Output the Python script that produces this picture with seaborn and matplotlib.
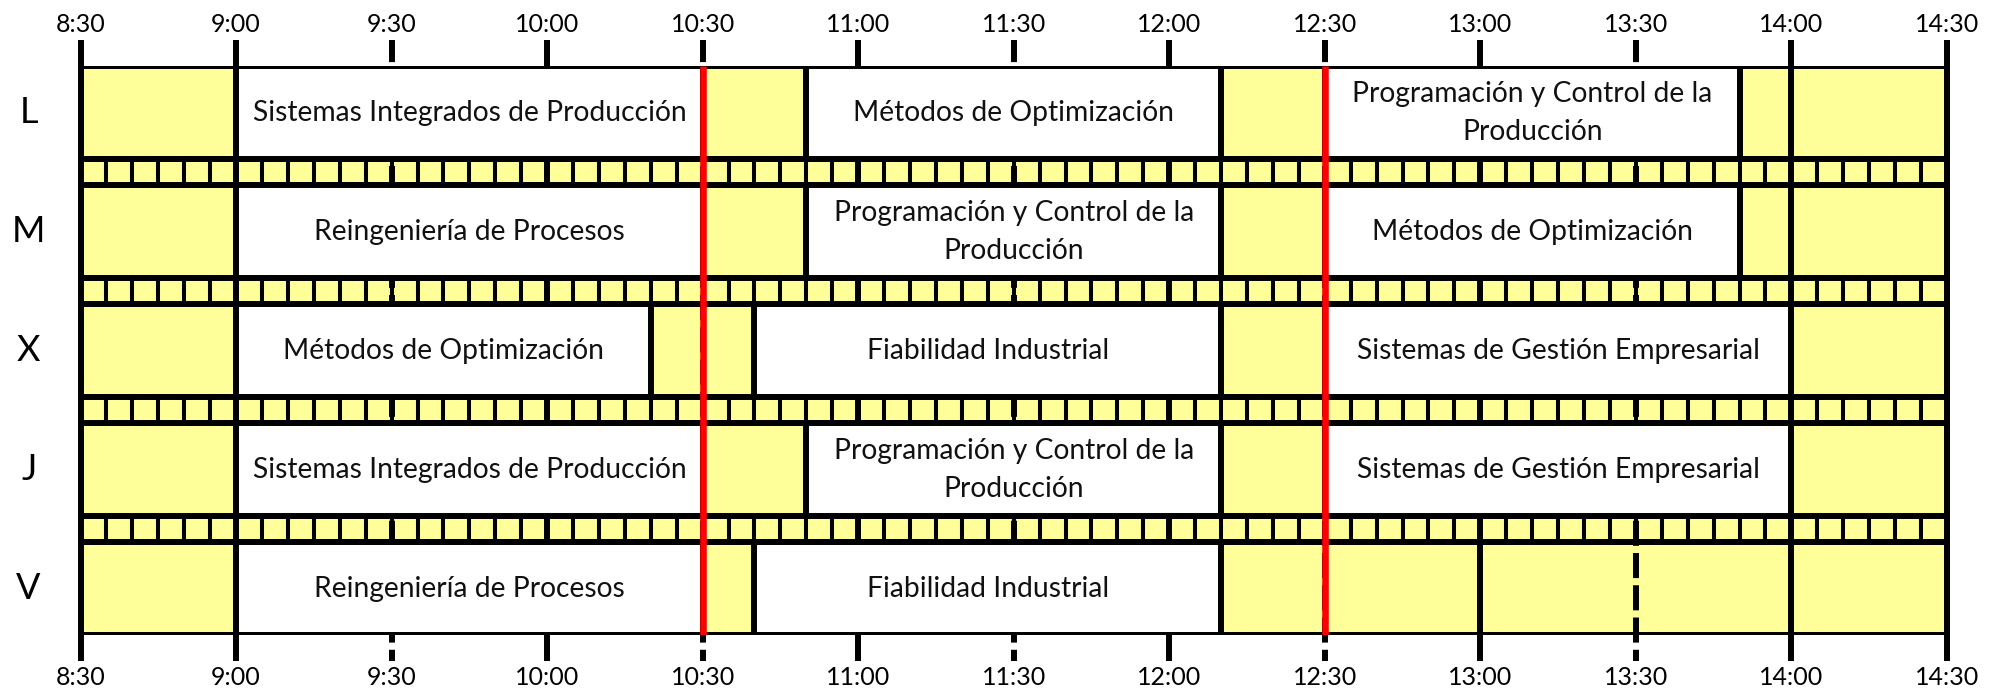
import matplotlib
matplotlib.use("Agg")
import matplotlib.pyplot as plt
import matplotlib.transforms as mtransforms
import numpy as np
import seaborn as sns

# ---------------- data ----------------
days = ["L", "M", "X", "J", "V"]
tick_labels = ["8:30", "9:00", "9:30", "10:00", "10:30", "11:00", "11:30",
               "12:00", "12:30", "13:00", "13:30", "14:00", "14:30"]
class_days = ["L", "L", "L",
              "M", "M", "M",
              "X", "X", "X",
              "J", "J", "J",
              "V", "V"]
class_starts = ["9:00", "10:50", "12:30",
                "9:00", "10:50", "12:30",
                "9:00", "10:40", "12:30",
                "9:00", "10:50", "12:30",
                "9:00", "10:40"]
class_ends = ["10:30", "12:10", "13:50",
              "10:30", "12:10", "13:50",
              "10:20", "12:10", "14:00",
              "10:30", "12:10", "14:00",
              "10:30", "12:10"]
class_names = ["Sistemas Integrados de Producción", "Métodos de Optimización",
               "Programación y Control de la\nProducción",
               "Reingeniería de Procesos", "Programación y Control de la\nProducción",
               "Métodos de Optimización",
               "Métodos de Optimización", "Fiabilidad Industrial",
               "Sistemas de Gestión Empresarial",
               "Sistemas Integrados de Producción", "Programación y Control de la\nProducción",
               "Sistemas de Gestión Empresarial",
               "Reingeniería de Procesos", "Fiabilidad Industrial"]
break_times = ["10:30", "12:30"]
day_start = "8:30"
day_end = "14:30"
slot_minutes = 5


def to_min(s):
    h, m = s.split(":")
    return int(h) * 60 + int(m)


# ---------------- style ----------------
sns.set_theme(style="white")
plt.rcParams["font.family"] = ["Lato", "DejaVu Sans"]

YELLOW = "#ffff99"
LW = 4.3        # thick black lines (pt)
LW_THIN = 2.9   # separators of the 5-min strip
GAP = 0.28      # strip height relative to a day row

fig = plt.figure(figsize=(20.03, 6.96), dpi=100)
ax = fig.add_axes([0.0402, 0.0876, 0.972 - 0.0402, 0.9046 - 0.0876])

x0, x1 = to_min(day_start), to_min(day_end)
row_top = np.arange(len(days)) * (1 + GAP)
row_center = row_top + 0.5
y_total = row_top[-1] + 1

# day rows (yellow background with black border)
ax.barh(row_center, x1 - x0, left=x0, height=1, color=YELLOW,
        edgecolor="black", linewidth=LW, zorder=1)

# 5-minute strips between days
slots = np.arange(x0, x1, slot_minutes)
for j in range(len(days) - 1):
    yc = row_top[j] + 1 + GAP / 2
    ax.barh(np.full(len(slots), yc), slot_minutes, left=slots, height=GAP,
            align="center", color=YELLOW, edgecolor="black",
            linewidth=LW_THIN, zorder=1.2)
    ax.hlines([row_top[j] + 1, row_top[j] + 1 + GAP], x0, x1,
              color="black", linewidth=LW, zorder=1.4)

# half-hour grid lines (also act as ticks, extending outside the frame)
tick_pos = [to_min(t) for t in tick_labels]
ext = 0.28
for t in tick_pos:
    solid = (t % 60 == 0) or t in (x0, x1)
    ax.plot([t, t], [-ext, y_total + ext], color="black", linewidth=LW,
            linestyle="-" if solid else (0.5, (4.2, 1.2)),
            solid_capstyle="butt", dash_capstyle="butt",
            zorder=2, clip_on=False)

# class boxes
for d, s, e, name in zip(class_days, class_starts, class_ends, class_names):
    i = days.index(d)
    s_m, e_m = to_min(s), to_min(e)
    ax.barh(row_center[i], e_m - s_m, left=s_m, height=1, color="white",
            edgecolor="black", linewidth=LW, zorder=3)
    ax.text((s_m + e_m) / 2, row_center[i], name, ha="center", va="center",
            fontsize=20.3, color="#111111", linespacing=1.57, zorder=4)

# break markers
ax.vlines([to_min(b) for b in break_times], 0, y_total, color="red",
          linewidth=4.7, zorder=5)

# day labels
trans = mtransforms.blended_transform_factory(ax.transAxes, ax.transData)
for i, d in enumerate(days):
    ax.text(-0.0278, row_center[i], d, transform=trans, ha="center",
            va="center", fontsize=26, color="black")

ax.set_xlim(x0, x1)
ax.set_ylim(y_total, 0)
ax.set_xticks(tick_pos)
ax.set_xticklabels(tick_labels, fontsize=18, color="black")
ax.tick_params(axis="x", top=True, labeltop=True, bottom=True,
               labelbottom=True, length=0, pad=22)
ax.set_yticks([])
for sp in ax.spines.values():
    sp.set_visible(False)
ax.set_facecolor("white")
fig.patch.set_facecolor("white")

fig.savefig("out.png", dpi=100, facecolor="white")
